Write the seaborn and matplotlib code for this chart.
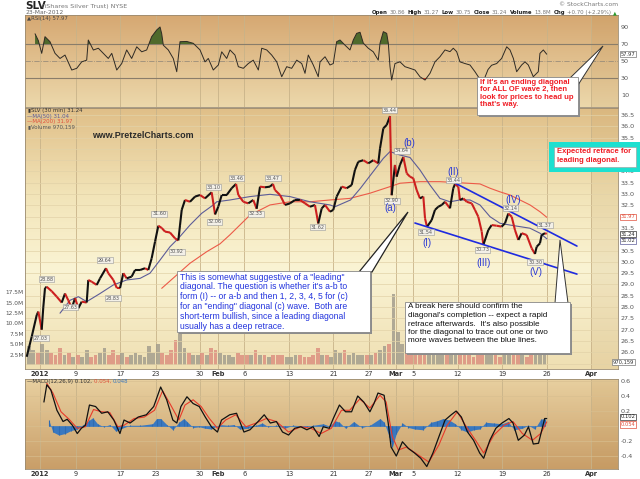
import numpy as np
import pandas as pd
import matplotlib
matplotlib.use("Agg")
import matplotlib.pyplot as plt
import seaborn as sns
from matplotlib.collections import LineCollection
from matplotlib.patches import Rectangle, Polygon
from matplotlib.colors import LinearSegmentedColormap

sns.set_theme(style="white")
plt.rcParams['font.family'] = ['DejaVu Sans']

# ---------------- data (x = trading-day index, 0 = 3 Jan 2012) ----------------
tick_days = [0, 4, 9, 13, 18, 20, 23, 28, 33, 37, 40, 42, 47, 52, 57, 62]
tick_labels = ['2012', '9', '17', '23', '30', 'Feb', '6', '13', '21', '27',
               'Mar', '5', '12', '19', '26', 'Apr']

price_t = [-1.50,-0.93,-0.37,-0.19,0.19,0.37,0.56,0.75,1.32,1.88,
           2.44,2.81,3.18,3.57,3.94,4.31,4.69,5.25,5.43,5.82,
           6.38,6.75,7.42,7.68,8.25,8.63,9.00,9.37,9.75,10.31,
           10.69,11.25,11.81,12.18,12.56,12.94,13.31,13.69,14.06,14.62,
           15.19,15.56,15.75,15.94,16.31,16.87,17.44,18.00,18.56,19.31,
           19.69,20.06,20.44,21.00,21.56,22.05,22.31,22.87,23.43,23.99,
           24.37,24.75,25.31,25.87,26.20,26.43,27.00,27.56,28.12,28.68,
           29.25,29.81,30.37,30.93,31.30,31.69,32.06,32.62,32.99,33.37,
           33.94,34.50,35.06,35.43,35.80,36.37,36.93,37.49,38.05,38.25,
           38.62,39.00,39.37,39.45,39.56,39.93,40.12,40.49,40.87,41.25,
           41.62,41.99,42.37,42.74,43.12,43.31,43.53,44.06,44.43,44.80,
           45.19,45.56,46.12,46.49,46.68,47.05,47.24,47.62,48.00,48.56,
           48.93,49.30,49.69,49.87,50.43,50.81,51.37,51.93,52.31,52.68,
           53.06,53.43,53.81,54.18,54.74,55.31,55.68,55.87,56.24,56.43,
           56.81,57.00]
price_close = [25.80,26.70,27.65,27.80,27.00,28.00,28.84,28.90,28.70,28.46,
               28.20,28.60,28.30,27.95,28.40,27.95,28.24,28.20,29.20,29.12,
               28.98,29.27,29.72,29.50,29.20,28.85,28.84,29.50,29.27,29.35,
               29.64,29.64,29.72,29.64,30.16,30.90,31.60,31.50,31.34,31.30,
               31.04,30.95,31.63,32.30,32.74,32.66,32.89,32.96,32.81,33.08,
               32.10,32.45,32.96,32.96,33.26,33.45,32.96,32.66,32.59,32.74,
               32.35,33.33,33.30,33.33,33.45,33.18,32.96,32.52,32.59,32.74,
               32.74,32.59,32.44,32.52,31.70,32.37,32.52,32.22,32.30,32.89,
               33.33,33.26,33.40,34.07,34.43,34.50,34.36,34.50,34.36,35.03,
               35.91,36.06,36.45,35.00,32.95,34.29,33.77,34.29,34.64,33.92,
               33.77,33.70,33.18,32.81,32.89,31.93,31.55,31.85,32.30,32.44,
               32.52,32.66,32.37,33.26,33.44,33.33,32.74,32.81,32.66,32.59,
               32.30,32.00,31.34,30.75,31.41,31.63,31.60,31.56,31.71,32.14,
               32.00,31.41,30.97,31.27,31.19,30.60,30.35,30.67,30.82,31.19,
               31.27,31.24]

ma50_t = [2.25,3.37,4.31,5.25,6.75,8.25,9.75,11.25,12.37,13.50,
          14.62,15.56,16.87,18.19,19.49,19.88,21.37,23.62,25.87,28.12,
          30.37,32.62,33.18,34.93,36.05,37.49,38.62,39.37,40.49,41.62,
          42.74,43.87,44.99,46.12,47.24,48.37,49.49,50.62,51.74,52.87,
          53.99,55.12,56.24,57.02]
ma50_v = [27.73,28.30,28.46,28.24,28.60,28.98,29.20,29.27,29.50,30.08,
          30.67,31.04,31.63,32.15,32.52,32.66,32.74,32.89,32.99,32.89,
          32.66,32.52,32.44,32.74,33.26,34.00,34.58,34.88,34.73,34.62,
          34.07,33.40,32.81,32.66,32.74,32.74,32.52,32.00,31.71,31.63,
          31.56,31.49,31.27,31.02]

ma200_t = [13.69,15.38,16.87,18.75,20.25,21.37,23.62,25.87,28.12,30.37,
           32.62,34.87,37.12,39.37,40.49,42.74,44.99,47.24,49.49,50.62,
           51.74,52.87,53.99,55.12,56.24,57.02]
ma200_v = [28.83,29.42,29.94,30.45,30.80,31.20,32.07,32.52,32.66,32.66,
           32.74,32.81,33.04,33.33,33.48,33.55,33.55,33.50,33.45,33.26,
           33.10,32.96,32.74,32.52,32.22,31.97]

volume_m = [4.5,3.5,3.0,
            5.0,3.5, 3.0,2.5, 4.0,2.5, 3.0,2.0, 2.5,2.0, 3.5,2.0, 2.5,3.0, 4.0,2.5,
            3.5,2.5, 3.0,2.0, 2.5,3.0, 2.5,2.0, 4.5,3.0, 5.0,3.0, 2.5,3.5, 6.0,9.5,
            4.0,3.0, 2.5,2.5, 3.0,2.5, 4.0,3.5, 3.0,2.5, 2.5,2.0, 3.0,2.5, 2.5,2.5,
            3.5,2.5, 2.5,2.0, 2.5,2.5, 2.5,2.0, 2.0,2.5, 2.5,2.0, 2.0,2.5, 4.0,2.5,
            2.5,2.0, 3.5,3.0, 3.5,2.5, 3.0,2.5, 2.5,2.5, 2.5,3.0, 3.5,4.5, 5.0,17.0,
            8.0,5.0, 5.5,4.0, 3.5,3.0, 4.5,3.5, 3.0,2.5, 2.5,2.5, 2.5,3.5, 3.0,2.5,
            2.5,2.0, 3.5,4.0, 3.0,2.5, 2.5,2.0, 2.5,2.5, 3.0,2.5, 2.5,2.0, 3.5,3.0,
            3.0,2.5]
volume_start = -1.5
volume_step = 0.5

rsi_t = [-0.56,-0.19,0.19,0.56,1.12,1.69,2.25,2.81,3.57,4.13,
         4.69,5.25,5.43,6.00,6.56,7.12,7.68,8.07,8.63,9.19,
         9.75,10.31,10.88,11.44,12.00,12.56,13.13,13.50,13.69,13.87,
         14.43,14.99,15.38,15.75,16.50,17.24,18.00,18.56,18.93,19.49,
         20.06,20.44,21.00,21.37,21.93,22.31,22.87,23.43,23.99,24.56,
         24.94,25.50,26.06,26.63,27.19,27.75,28.31,28.88,29.44,29.81,
         30.18,30.74,31.30,31.50,32.06,32.62,32.99,33.37,33.75,34.31,
         34.87,35.24,35.62,36.00,36.37,36.93,37.49,38.05,38.25,38.62,
         39.00,39.18,39.37,39.56,39.93,40.49,41.06,41.62,42.18,42.74,
         43.31,43.87,44.43,44.99,45.56,46.12,46.49,46.87,47.24,47.81,
         48.37,48.93,49.30,49.83,50.40,50.80,51.37,51.93,52.50,52.87,
         53.25,53.62,54.18,54.56,54.93,55.49,56.05,56.24,56.62,57.00]
rsi_v = [82,74,59,78.6,72.7,59,53,57,39.4,41.4,
         49,51,74.7,62.9,65,59,53,59,39.4,47,
         63,53,66.7,60.8,63,78.6,86.5,90,82,68.6,
         63,53,37.4,72.7,73,70.8,63,49,53,39.4,
         45.3,60.8,53,63,57,43.3,41.4,47,51,39.4,
         65,63,57,49,31.5,43.3,41.4,51,47,35.5,
         57,45.3,31.5,49,55,45.3,47,72.7,74.7,68.6,
         63,74.7,82.5,83.8,71,65,60.8,51,71,84.5,
         82.5,71,43.3,27.6,47,49,43.3,41.4,39.4,31.5,
         27.6,35.5,49,55,63,61,65,61,49,47,
         45.3,37.4,31.5,25,40,45,47,53,66.7,63,
         53,37.4,45.3,49,45.3,31.5,37.4,59,63,58]

macd_t = [0.44,0.76,1.22,1.90,2.59,3.05,3.64,4.19,4.65,5.10,
          5.56,6.25,6.93,7.62,8.30,8.99,9.45,10.13,11.05,11.96,
          12.79,13.57,14.25,14.94,15.39,15.85,16.53,17.22,17.91,18.59,
          19.28,19.96,20.42,21.34,22.11,22.94,23.62,24.53,25.22,25.91,
          26.59,27.28,27.96,28.65,29.34,30.02,30.71,31.40,31.86,32.54,
          32.99,33.68,34.37,35.05,35.74,36.42,37.11,37.57,38.02,38.71,
          39.17,39.49,40.08,40.77,41.45,42.14,42.83,43.51,44.20,44.88,
          45.57,46.26,46.81,47.40,48.09,48.77,49.46,49.91,50.60,51.28,
          51.97,52.75,53.21,53.80,54.49,54.95,55.49,56.08,56.77,57.00]
macd_v = [0.32,0.55,0.48,0.21,0.06,0.09,0.01,-0.10,-0.03,0.01,
          0.28,0.26,0.17,0.19,0.08,-0.10,0.08,0.04,0.12,0.15,
          0.26,0.52,0.35,0.08,0.04,0.26,0.39,0.30,0.26,0.12,
          -0.01,-0.08,0.08,0.15,0.17,-0.08,-0.05,0.06,0.15,0.04,
          0.06,-0.08,-0.12,-0.03,-0.01,-0.05,-0.01,-0.14,-0.01,-0.03,
          0.10,0.28,0.19,0.19,0.40,0.32,0.19,0.30,0.44,0.41,
          0.04,-0.28,-0.40,-0.21,-0.30,-0.36,-0.43,-0.54,-0.36,-0.14,
          0.08,0.15,0.20,0.12,-0.08,-0.19,-0.36,-0.43,-0.19,-0.03,
          0.04,0.10,0.04,-0.19,-0.12,-0.01,-0.24,-0.23,0.10,0.10]

signal_t = [0.76,1.45,2.36,3.27,4.19,5.10,6.02,6.93,7.85,8.76,
            9.45,10.59,11.73,12.88,13.79,14.70,15.62,16.31,17.22,18.13,
            19.05,19.96,20.88,22.02,23.16,24.31,25.45,26.59,27.96,29.34,
            30.48,31.62,32.77,33.91,34.83,35.97,37.11,38.25,38.94,39.63,
            40.31,41.23,42.60,43.74,44.88,45.80,46.94,47.85,48.99,49.91,
            51.06,52.20,53.21,54.26,55.40,56.32,57.00]
signal_v = [0.57,0.44,0.19,0.09,-0.03,-0.01,0.22,0.19,0.18,-0.01,
            0.01,0.10,0.12,0.21,0.47,0.28,0.08,0.28,0.35,0.26,
            0.10,-0.03,0.08,0.15,-0.01,0.04,0.10,0.06,-0.08,-0.01,
            -0.03,-0.10,-0.03,0.21,0.21,0.36,0.24,0.41,0.32,-0.14,
            -0.32,-0.28,-0.39,-0.48,-0.25,0.01,0.19,0.01,-0.19,-0.36,
            -0.12,0.01,0.06,-0.10,-0.19,-0.10,0.054]

hist_t = [0.99,1.45,2.13,2.82,3.50,4.19,4.87,5.56,5.93,6.47,
          7.16,7.85,8.53,9.22,10.13,11.27,12.65,13.11,13.57,14.25,
          14.94,15.62,16.17,16.53,17.22,17.91,18.59,19.28,20.19,21.11,
          21.79,22.48,23.40,24.31,25.00,25.68,26.59,27.51,28.43,29.34,
          30.02,30.71,31.86,32.54,33.23,33.68,34.37,35.28,36.20,37.11,
          38.25,38.71,39.30,39.63,40.08,40.77,41.45,42.14,43.06,43.97,
          44.66,45.34,46.03,46.72,47.40,48.09,48.77,49.46,50.15,51.06,
          51.97,52.65,53.34,54.26,54.95,55.64,56.32,56.77]
hist_v = [0.08,-0.08,-0.12,-0.10,-0.06,-0.04,0.02,0.08,0.11,0.03,
          -0.01,0.02,-0.07,-0.03,0.01,0.01,0.03,0.10,0.10,0.02,
          -0.05,0.05,0.10,0.06,-0.02,-0.01,-0.03,-0.04,0.02,0.01,
          0.02,-0.04,-0.03,0.01,0.04,-0.01,0.01,-0.03,0.01,0.005,
          -0.01,0.01,0.03,0.0,0.07,0.05,-0.03,0.06,-0.02,0.01,
          0.10,0.05,-0.15,-0.28,-0.10,0.04,-0.02,-0.04,-0.05,0.05,
          0.07,0.10,0.08,0.03,-0.05,-0.08,-0.05,-0.04,0.05,0.04,
          0.03,0.06,-0.05,-0.03,0.01,-0.04,0.09,0.10]

plab_t = [0.10,0.75,3.40,7.30,8.20,13.40,15.40,19.50,19.60,22.10,24.30,
          26.20,31.20,39.30,39.60,40.70,43.40,46.50,49.80,52.90,55.70,56.80]
plab_p = [26.63,29.24,28.00,30.08,28.40,32.12,30.44,33.31,31.77,33.71,32.12,
          33.71,31.54,36.72,32.70,34.91,31.32,33.62,30.53,32.38,29.99,31.63]
plab_txt = ['27.03','28.88','27.63','29.64','28.83','31.60','30.92','33.10','32.06',
            '33.46','32.33','33.47','31.62','36.44','32.90','34.64','31.54','33.44',
            '30.73','32.14','30.30','31.37']

wave_t = [39.37, 41.50, 43.50, 46.46, 49.90, 53.20, 55.80]
wave_p = [32.38, 35.26, 30.84, 33.98, 29.95, 32.74, 29.55]
wave_txt = ['(a)', '(b)', '(I)', '(II)', '(III)', '(IV)', '(V)']

upper_t = [46.68, 60.40]
upper_p = [33.49, 30.70]
lower_t = [42.18, 60.40]
lower_p = [31.72, 29.46]

price_ticks = [25.5,26.0,26.5,27.0,27.5,28.0,28.5,29.0,29.5,30.0,30.5,31.0,31.5,
               32.0,32.5,33.0,33.5,34.0,34.5,35.0,35.5,36.0,36.5]
price_hidden = [25.5, 31.0, 32.0, 34.5, 35.0]   # covered by value tags / callout
vol_ticks = [2.5, 5.0, 7.5, 10.0, 12.5, 15.0, 17.5]
rsi_ticks = [10, 30, 50, 70, 90]
macd_ticks = [-0.4, -0.2, 0.0, 0.2, 0.4, 0.6]
macd_hidden = [0.0]

# ---------------- figure ----------------
W, H = 640, 479
fig = plt.figure(figsize=(W / 100, H / 100), dpi=100)
fig.patch.set_facecolor('white')

XL = (-1.69, 65.02)


def rect_px(x0, y0, x1, y1):
    return [x0 / W, 1 - y1 / H, (x1 - x0) / W, (y1 - y0) / H]


def gradient(ax, stops):
    cmap = LinearSegmentedColormap.from_list('g', stops)
    arr = np.linspace(0, 1, 256).reshape(-1, 1)
    ax.imshow(arr, cmap=cmap, aspect='auto', extent=(0, 1, 0, 1),
              transform=ax.transAxes, zorder=0, origin='upper')


def style_axis(ax):
    for s in ax.spines.values():
        s.set_color('#9a8a70')
        s.set_linewidth(0.6)
    ax.set_xlim(*XL)
    ax.tick_params(axis='both', length=0)


def vgrid(ax):
    for d in tick_days:
        ax.axvline(d, color='#c8b389', lw=0.6, zorder=1)
    ax.axvspan(62, XL[1], color='#b88a4a', alpha=0.14, zorder=0.5, lw=0)


# ---- RSI panel ----
ax_r = fig.add_axes(rect_px(25, 15, 618, 107))
gradient(ax_r, [(0, '#d6a872'), (1, '#ecd8ab')])
vgrid(ax_r)
ax_r.axhline(70, color='#8a7d6a', lw=0.8, zorder=1)
ax_r.axhline(30, color='#8a7d6a', lw=0.8, zorder=1)
ax_r.axhline(50, color='#9a8d7a', lw=0.6, ls='-.', zorder=1)
rv = np.array(rsi_v)
ax_r.fill_between(rsi_t, rv, 70, where=rv > 70, interpolate=True, color='#4f6a2c', zorder=2, lw=0)
ax_r.fill_between(rsi_t, rv, 30, where=rv < 30, interpolate=True, color='#c23a2a', zorder=2, lw=0)
sns.lineplot(x=rsi_t, y=rsi_v, ax=ax_r, color='#2e2a24', lw=0.7, zorder=3)
ax_r.set_ylim(-4.1, 104.1)
style_axis(ax_r)
ax_r.yaxis.tick_right()
ax_r.set_yticks(rsi_ticks)
ax_r.set_yticklabels([str(v) for v in rsi_ticks], fontsize=4.6, color='#555')
ax_r.tick_params(axis='y', pad=2)
ax_r.set_xticks([])
ax_r.set_xlabel('')
ax_r.set_ylabel('')

# ---- volume (behind price) ----
ax_v = fig.add_axes(rect_px(25, 108, 618, 369))
gradient(ax_v, [(0, '#e0bf88'), (0.33, '#f2e4b8'), (0.62, '#faf4d4'), (1, '#efdfb2')])
vgrid(ax_v)
vol_t = volume_start + volume_step * np.arange(len(volume_m)) + volume_step / 2
pt = np.array(price_t)
pv = np.array(price_close)
p0 = np.interp(vol_t - volume_step / 2, pt, pv)
p1 = np.interp(vol_t + volume_step / 2, pt, pv)
vol_colors = ['#dc9080' if b < a else '#a49e8e' for a, b in zip(p0, p1)]
ax_v.bar(vol_t, volume_m, width=0.42, color=vol_colors, alpha=0.85, zorder=2, lw=0)
ax_v.set_ylim(-0.96, 61.8)
style_axis(ax_v)
for s in ax_v.spines.values():
    s.set_visible(False)
ax_v.set_xticks([])
ax_v.yaxis.tick_left()
ax_v.set_yticks(vol_ticks)
ax_v.set_yticklabels([f'{v:.1f}M' for v in vol_ticks], fontsize=4.2, color='#555')
ax_v.tick_params(axis='y', pad=1)

# ---- price panel ----
ax_p = fig.add_axes(rect_px(25, 108, 618, 369))
ax_p.patch.set_alpha(0)
for yv in price_ticks:
    ax_p.axhline(yv, color='#e2d2a8', lw=0.5, zorder=1)
sns.lineplot(x=ma200_t, y=ma200_v, ax=ax_p, color='#ec5a48', lw=0.8, zorder=3)
sns.lineplot(x=ma50_t, y=ma50_v, ax=ax_p, color='#5c5c98', lw=0.8, zorder=3)
segs = np.stack([np.column_stack([pt[:-1], pv[:-1]]), np.column_stack([pt[1:], pv[1:]])], axis=1)
seg_cols = ['#cc1f1f' if pv[i + 1] < pv[i] else '#111111' for i in range(len(pv) - 1)]
ax_p.add_collection(LineCollection(segs, colors=seg_cols, linewidths=1.5, zorder=4,
                                   capstyle='butt'))
ax_p.plot(upper_t, upper_p, color='#1f2be0', lw=1.2, zorder=5)
ax_p.plot(lower_t, lower_p, color='#1f2be0', lw=1.2, zorder=5)
for t, p, s in zip(plab_t, plab_p, plab_txt):
    ax_p.text(t, p, s, fontsize=3.5, color='#555', ha='center', va='center', zorder=6,
              bbox=dict(boxstyle='square,pad=0.15', fc='#f3f0e8', ec='#999', lw=0.4))
for t, p, s in zip(wave_t, wave_p, wave_txt):
    ax_p.text(t, p, s, fontsize=7, color='#2c3bd6', ha='center', va='center', zorder=6,
              family=['Liberation Sans', 'DejaVu Sans'])
ax_p.set_ylim(25.26, 36.81)
style_axis(ax_p)
ax_p.yaxis.tick_right()
ax_p.set_yticks(price_ticks)
ax_p.set_yticklabels(['' if v in price_hidden else f'{v:.1f}' for v in price_ticks],
                     fontsize=4.6, color='#555')
ax_p.tick_params(axis='y', pad=2)
ax_p.set_xticks(tick_days)
ax_p.set_xticklabels(tick_labels, fontsize=4.8, color='#333')
ax_p.tick_params(axis='x', pad=1.2)
for lbl in ax_p.get_xticklabels():
    if lbl.get_text() in ('2012', 'Feb', 'Mar', 'Apr'):
        lbl.set_fontweight('bold')
ax_p.set_xlabel('')
ax_p.set_ylabel('')

# ---- MACD panel ----
ax_m = fig.add_axes(rect_px(25, 379, 618, 469))
gradient(ax_m, [(0, '#e8d0a0'), (1, '#c99e68')])
vgrid(ax_m)
for yv in macd_ticks:
    ax_m.axhline(yv, color='#d8bf90', lw=0.45, zorder=1)
ax_m.plot([hist_t[0], hist_t[-1]], [0, 0], color='#3a78c0', lw=0.5, zorder=2)
ax_m.fill_between(hist_t, 0, hist_v, color='#3a78c0', lw=0, zorder=2)
ax_m.vlines(hist_t, 0, hist_v, color='#2f6bb0', lw=0.8, zorder=2)
sns.lineplot(x=signal_t, y=signal_v, ax=ax_m, color='#e83a2a', lw=0.8, zorder=3)
sns.lineplot(x=macd_t, y=macd_v, ax=ax_m, color='#111111', lw=0.9, zorder=4)
ax_m.set_ylim(-0.573, 0.627)
style_axis(ax_m)
ax_m.yaxis.tick_right()
ax_m.set_yticks(macd_ticks)
ax_m.set_yticklabels(['' if v in macd_hidden else f'{v:.1f}' for v in macd_ticks],
                     fontsize=4.6, color='#555')
ax_m.tick_params(axis='y', pad=2)
ax_m.set_xticks(tick_days)
ax_m.set_xticklabels(tick_labels, fontsize=4.8, color='#333')
ax_m.tick_params(axis='x', pad=1.2)
for lbl in ax_m.get_xticklabels():
    if lbl.get_text() in ('2012', 'Feb', 'Mar', 'Apr'):
        lbl.set_fontweight('bold')
ax_m.set_xlabel('')
ax_m.set_ylabel('')


# ---------------- figure-level text & callouts ----------------
def ftext(x, y, s, **kw):
    kw.setdefault('zorder', 12)
    return fig.text(x / W, 1 - y / H, s, **kw)


def frect(x0, y0, x1, y1, **kw):
    r = Rectangle((x0 / W, 1 - y1 / H), (x1 - x0) / W, (y1 - y0) / H,
                  transform=fig.transFigure, **kw)
    fig.add_artist(r)


def fpoly(pts, **kw):
    p = Polygon([(x / W, 1 - y / H) for x, y in pts], closed=True,
                transform=fig.transFigure, **kw)
    fig.add_artist(p)


renderer = fig.canvas.get_renderer()

ftext(25, 6, 'SLV', fontsize=7.5, fontweight='bold', color='#222', va='center')
ftext(42, 6.5, '(iShares Silver Trust) NYSE', fontsize=4.6, color='#777', va='center')
ftext(25, 12.5, '23-Mar-2012', fontsize=4.3, color='#666', va='center')
ftext(618, 5, '\u00a9 StockCharts.com', fontsize=4.3, color='#777', va='center', ha='right')

hdr = [('Open', True), ('30.86', False), ('High', True), ('31.27', False),
       ('Low', True), ('30.75', False), ('Close', True), ('31.24', False),
       ('Volume', True), ('13.8M', False), ('Chg', True), ('+0.70 (+2.29%)', False)]
xr = 611.0
for i, (s, b) in enumerate(reversed(hdr)):
    t = ftext(xr, 12.5, s, fontsize=3.9, color='#222' if b else '#777',
              fontweight='bold' if b else 'normal', va='center', ha='right')
    w = t.get_window_extent(renderer).width
    gap = 1.5 if not b else 3.0
    xr -= w + gap
ftext(613, 12.5, '\u25b2', fontsize=3.5, color='#2a9a2a', va='center')

ftext(27, 18.5, '\u25b2RSI(14) 57.97', fontsize=3.9, color='#444', va='center')
ftext(28, 110.5, '\u25aeSLV (30 min) 31.24', fontsize=3.9, color='#333', va='center')
ftext(27, 116, '\u2014MA(50) 31.04', fontsize=3.9, color='#5c5c98', va='center')
ftext(27, 121.5, '\u2014MA(200) 31.97', fontsize=3.9, color='#e0503c', va='center')
ftext(28, 127, '\u25aeVolume 970,159', fontsize=3.9, color='#555', va='center')
t1 = ftext(27, 381.5, '\u2014MACD(12,26,9) 0.102, ', fontsize=3.9, color='#333', va='center')
w1 = t1.get_window_extent(renderer).width
t2 = ftext(27 + w1, 381.5, '0.054, ', fontsize=3.9, color='#e0503c', va='center')
w2 = t2.get_window_extent(renderer).width
ftext(27 + w1 + w2, 381.5, '0.048', fontsize=3.9, color='#3a78c0', va='center')

ftext(92, 135, 'www.PretzelCharts.com', fontsize=6.4, fontweight='bold', color='#2a2a2a',
      va='center', family=['Liberation Sans', 'DejaVu Sans'])


# right-hand value tags
def tag(x, y, s, ec, c):
    ftext(x, y, s, fontsize=3.7, color=c, va='center', ha='left',
          bbox=dict(boxstyle='square,pad=0.12', fc='white', ec=ec, lw=0.5))


tag(621, 54, '57.97', '#777', '#333')
tag(621, 217, '31.97', '#e0503c', '#e0503c')
tag(621, 234, '31.24', '#333', '#222')
tag(621, 241, '31.02', '#5c5c98', '#333')
tag(613, 362, '970,159', '#777', '#333')
tag(621, 417, '0.102', '#333', '#222')
tag(621, 424.5, '0.054', '#e0503c', '#e0503c')

CALL = ['Liberation Sans', 'DejaVu Sans']

# red callout (top right)
frect(479, 79, 580, 117, fc='#8c8c8c', ec='none', zorder=9)
fpoly([(570, 78), (578, 85), (603, 46)], fc='white', ec='#333', lw=0.7, zorder=9.5)
frect(477, 77, 578, 115, fc='white', ec='#888', lw=0.6, zorder=10)
ftext(480, 78.5, "If it's an ending diagonal\nfor ALL OF wave 2, then\nlook for prices to head up\nthat's way.",
      fontsize=5.5, fontweight='bold', color='#f01c24', va='top', linespacing=1.13, family=CALL)

# cyan callout
frect(549, 142, 640, 172, fc='#1de0d0', ec='none', zorder=10)
frect(554, 147, 636, 167, fc='white', ec='#999', lw=0.4, zorder=10.5)
ftext(557, 148, 'Expected retrace for\nleading diagonal.', fontsize=5.5, fontweight='bold',
      color='#f01c24', va='top', linespacing=1.3, family=CALL)

# blue callout
frect(179, 273, 372, 334, fc='#8c8c8c', ec='none', zorder=9)
fpoly([(359, 272), (372, 272), (408, 212)], fc='white', ec='#222', lw=0.9, zorder=9.5)
frect(177, 271, 370, 332, fc='white', ec='#888', lw=0.6, zorder=10)
ftext(179.5, 272.5, 'This is somewhat suggestive of a "leading"\n'
      'diagonal. The question is whether it\'s a-b to\n'
      'form (I) -- or a-b and then 1, 2, 3, 4, 5 for (c)\n'
      'for an "ending" diagonal (c) wave.  Both are\n'
      'short-term bullish, since a leading diagonal\n'
      'usually has a deep retrace.',
      fontsize=6.2, color='#2233dd', va='top', linespacing=1.13, family=CALL)

# black callout
frect(407, 304, 572, 355, fc='#8c8c8c', ec='none', zorder=9)
fpoly([(555, 303), (568, 303), (560, 240)], fc='white', ec='#333', lw=0.7, zorder=9.5)
frect(405, 302, 570, 353, fc='white', ec='#888', lw=0.6, zorder=10)
ftext(407.5, 303.5, "A break here should confirm the\n"
      "diagonal's completion -- expect a rapid\n"
      "retrace afterwards.  It's also possible\n"
      "for the diagonal to trace out one or two\n"
      "more waves between the blue lines.",
      fontsize=5.9, color='#111', va='top', linespacing=1.3, family=CALL)

fig.savefig('out.png', dpi=100)
